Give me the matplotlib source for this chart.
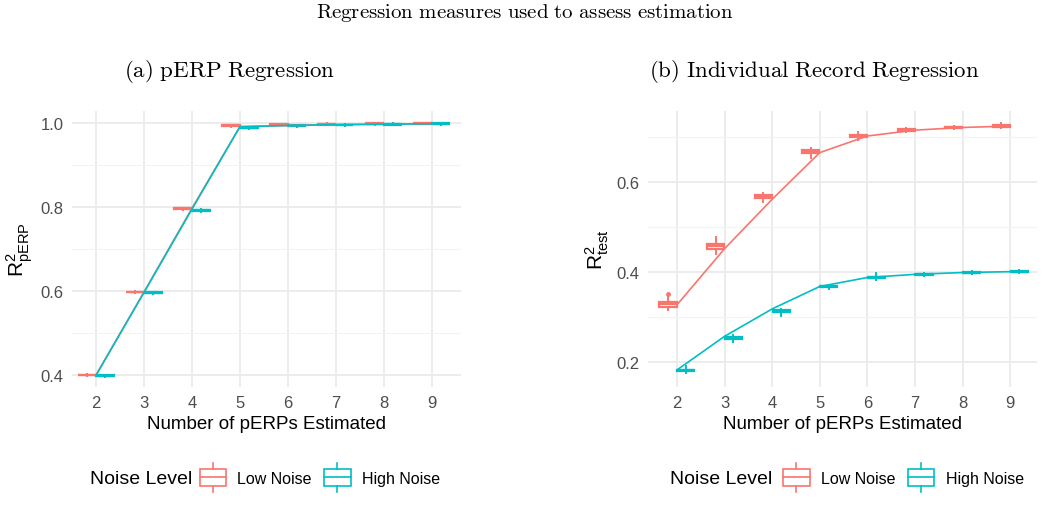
import matplotlib
matplotlib.use("Agg")
import matplotlib.pyplot as plt
from matplotlib.patches import Rectangle
from matplotlib.lines import Line2D
from matplotlib.legend_handler import HandlerBase

plt.rcParams['font.family'] = ['Liberation Sans', 'DejaVu Sans']
plt.rcParams['mathtext.fontset'] = 'cm'

LOW_COL = '#F8766D'
HIGH_COL = '#00BFC4'
GRID_COL = '#EBEBEB'

n_perps = [2, 3, 4, 5, 6, 7, 8, 9]

# (a) pERP regression, R^2 per number of pERPs
perp_low_med = [0.399, 0.597, 0.797, 0.995, 0.997, 0.998, 0.999, 1.000]
perp_low_q1 = [0.398, 0.596, 0.796, 0.994, 0.996, 0.997, 0.998, 0.999]
perp_low_q3 = [0.400, 0.598, 0.798, 0.996, 0.998, 0.999, 1.000, 1.001]
perp_low_lo = [0.397, 0.595, 0.794, 0.992, 0.995, 0.996, 0.997, 0.998]
perp_low_hi = [0.401, 0.599, 0.799, 0.997, 0.999, 1.000, 1.001, 1.002]
perp_low_line = [0.399, 0.597, 0.797, 0.992, 0.995, 0.997, 0.998, 0.999]

perp_high_med = [0.397, 0.595, 0.792, 0.990, 0.994, 0.996, 0.998, 0.999]
perp_high_q1 = [0.396, 0.594, 0.791, 0.989, 0.993, 0.995, 0.997, 0.998]
perp_high_q3 = [0.398, 0.596, 0.793, 0.991, 0.995, 0.997, 0.999, 1.000]
perp_high_lo = [0.395, 0.593, 0.789, 0.987, 0.992, 0.994, 0.996, 0.997]
perp_high_hi = [0.399, 0.597, 0.795, 0.992, 0.996, 0.998, 1.000, 1.001]
perp_high_line = [0.398, 0.596, 0.795, 0.992, 0.995, 0.997, 0.998, 0.999]

# (b) individual record regression, R^2 on test records
rec_low_med = [0.328, 0.457, 0.568, 0.668, 0.703, 0.716, 0.722, 0.725]
rec_low_q1 = [0.323, 0.452, 0.564, 0.665, 0.700, 0.714, 0.720, 0.723]
rec_low_q3 = [0.334, 0.462, 0.572, 0.671, 0.706, 0.718, 0.724, 0.727]
rec_low_lo = [0.315, 0.440, 0.556, 0.655, 0.693, 0.711, 0.718, 0.721]
rec_low_hi = [0.345, 0.478, 0.577, 0.677, 0.711, 0.721, 0.726, 0.733]
rec_low_fliers = [[0.352], [], [], [], [], [], [], []]
rec_low_line = [0.327, 0.452, 0.562, 0.666, 0.703, 0.716, 0.722, 0.725]

rec_high_med = [0.181, 0.253, 0.313, 0.368, 0.388, 0.395, 0.399, 0.401]
rec_high_q1 = [0.179, 0.251, 0.311, 0.366, 0.386, 0.393, 0.398, 0.400]
rec_high_q3 = [0.183, 0.256, 0.316, 0.370, 0.390, 0.396, 0.401, 0.403]
rec_high_lo = [0.175, 0.245, 0.303, 0.362, 0.383, 0.391, 0.396, 0.398]
rec_high_hi = [0.190, 0.260, 0.318, 0.372, 0.397, 0.398, 0.402, 0.404]
rec_high_line = [0.182, 0.257, 0.318, 0.368, 0.388, 0.395, 0.399, 0.401]

series_names = ['Low Noise', 'High Noise']


def make_stats(med, q1, q3, lo, hi, fliers=None):
    out = []
    for i in range(len(med)):
        out.append(dict(med=med[i], q1=q1[i], q3=q3[i], whislo=lo[i], whishi=hi[i],
                        fliers=fliers[i] if fliers else []))
    return out


def draw_boxes(ax, stats, offset, color):
    pos = [x + offset for x in n_perps]
    ax.bxp(stats, positions=pos, widths=0.36, showcaps=False, patch_artist=True,
           manage_ticks=False,
           boxprops=dict(facecolor='white', edgecolor=color, linewidth=1.6),
           medianprops=dict(color=color, linewidth=1.6),
           whiskerprops=dict(color=color, linewidth=1.4),
           flierprops=dict(marker='o', markersize=2.5, markerfacecolor=color,
                           markeredgecolor=color), zorder=3)


def style_axes(ax, major, minor):
    ax.set_facecolor('white')
    for s in ax.spines.values():
        s.set_visible(False)
    ax.set_xticks(n_perps)
    ax.set_xticklabels([str(n) for n in n_perps])
    ax.set_yticks(major)
    ax.set_yticks(minor, minor=True)
    ax.grid(True, which='major', color=GRID_COL, linewidth=1.3, zorder=0)
    ax.grid(True, which='minor', axis='y', color='#F3F3F3', linewidth=0.8, zorder=0)
    ax.tick_params(axis='both', which='both', length=0, labelsize=12,
                   labelcolor='#4D4D4D', pad=6)
    ax.set_axisbelow(True)
    ax.set_xlabel('Number of pERPs Estimated', fontsize=13.5, labelpad=3)


fig = plt.figure(figsize=(10.5, 5.06), dpi=100)
ax1 = fig.add_axes([0.0686, 0.233, 0.370, 0.546])
ax2 = fig.add_axes([0.617, 0.233, 0.371, 0.546])

# ===== (a) pERP Regression =====
style_axes(ax1, [0.4, 0.6, 0.8, 1.0], [0.5, 0.7, 0.9])
draw_boxes(ax1, make_stats(perp_low_med, perp_low_q1, perp_low_q3, perp_low_lo, perp_low_hi),
           -0.1875, LOW_COL)
draw_boxes(ax1, make_stats(perp_high_med, perp_high_q1, perp_high_q3, perp_high_lo, perp_high_hi),
           0.1875, HIGH_COL)
ax1.plot(n_perps, perp_low_line, color=LOW_COL, linewidth=1.2, zorder=4)
ax1.plot(n_perps, perp_high_line, color=HIGH_COL, linewidth=1.2, zorder=5)
ax1.set_xlim(1.5, 9.6)
ax1.set_ylim(0.37, 1.03)
ax1.set_yticklabels(['0.4', '0.6', '0.8', '1.0'])
ax1.set_ylabel(r'$\mathregular{R^2_{pERP}}$', fontsize=15, labelpad=4)

# ===== (b) Individual Record Regression =====
style_axes(ax2, [0.2, 0.4, 0.6], [0.3, 0.5, 0.7])
draw_boxes(ax2, make_stats(rec_low_med, rec_low_q1, rec_low_q3, rec_low_lo, rec_low_hi,
                           rec_low_fliers), -0.1875, LOW_COL)
draw_boxes(ax2, make_stats(rec_high_med, rec_high_q1, rec_high_q3, rec_high_lo, rec_high_hi),
           0.1875, HIGH_COL)
ax2.plot(n_perps, rec_low_line, color=LOW_COL, linewidth=1.2, zorder=4)
ax2.plot(n_perps, rec_high_line, color=HIGH_COL, linewidth=1.2, zorder=5)
ax2.set_xlim(1.39, 9.57)
ax2.set_ylim(0.144, 0.759)
ax2.set_yticklabels(['0.2', '0.4', '0.6'])
ax2.set_ylabel(r'$\mathregular{R^2_{test}}$', fontsize=15, labelpad=4)

# ===== titles =====
fig.text(0.5, 0.975, r'$\mathrm{Regression\ measures\ used\ to\ assess\ estimation}$',
         ha='center', va='center', fontsize=15)
fig.text(0.219, 0.858, r'$\mathrm{(a)\ pERP\ Regression}$', ha='center', va='center',
         fontsize=16.5)
fig.text(0.775, 0.858, r'$\mathrm{(b)\ Individual\ Record\ Regression}$', ha='center',
         va='center', fontsize=16.5)


# ===== legends =====
class BoxHandler(HandlerBase):
    def create_artists(self, legend, orig_handle, xdescent, ydescent, width, height,
                       fontsize, trans):
        col = orig_handle.get_color()
        x0, y0 = -xdescent, -ydescent
        h = height * 1.3
        yb = y0 + (height - h) / 2
        box = Rectangle((x0, yb), width, h, facecolor='white', edgecolor=col,
                        linewidth=1.2, transform=trans)
        mid = Line2D([x0, x0 + width], [y0 + height / 2] * 2, color=col,
                     linewidth=1.2, transform=trans)
        top = Line2D([x0 + width / 2] * 2, [yb + h, yb + h + height * 0.45], color=col,
                     linewidth=1.2, transform=trans)
        bot = Line2D([x0 + width / 2] * 2, [yb, yb - height * 0.45], color=col,
                     linewidth=1.2, transform=trans)
        return [box, mid, top, bot]


handles = [Line2D([], [], color=LOW_COL), Line2D([], [], color=HIGH_COL)]
for tx, lx in [(0.0857, 0.190), (0.638, 0.746)]:
    fig.text(tx, 0.053, 'Noise Level', ha='left', va='center', fontsize=14)
    fig.legend(handles, series_names, handler_map={Line2D: BoxHandler()},
               loc='center left', bbox_to_anchor=(lx, 0.053), ncol=2, frameon=False,
               fontsize=11.5, handlelength=1.65, handleheight=0.9, handletextpad=0.7,
               columnspacing=0.8, borderaxespad=0, borderpad=0)

fig.savefig('out.png', dpi=100, facecolor='white')
